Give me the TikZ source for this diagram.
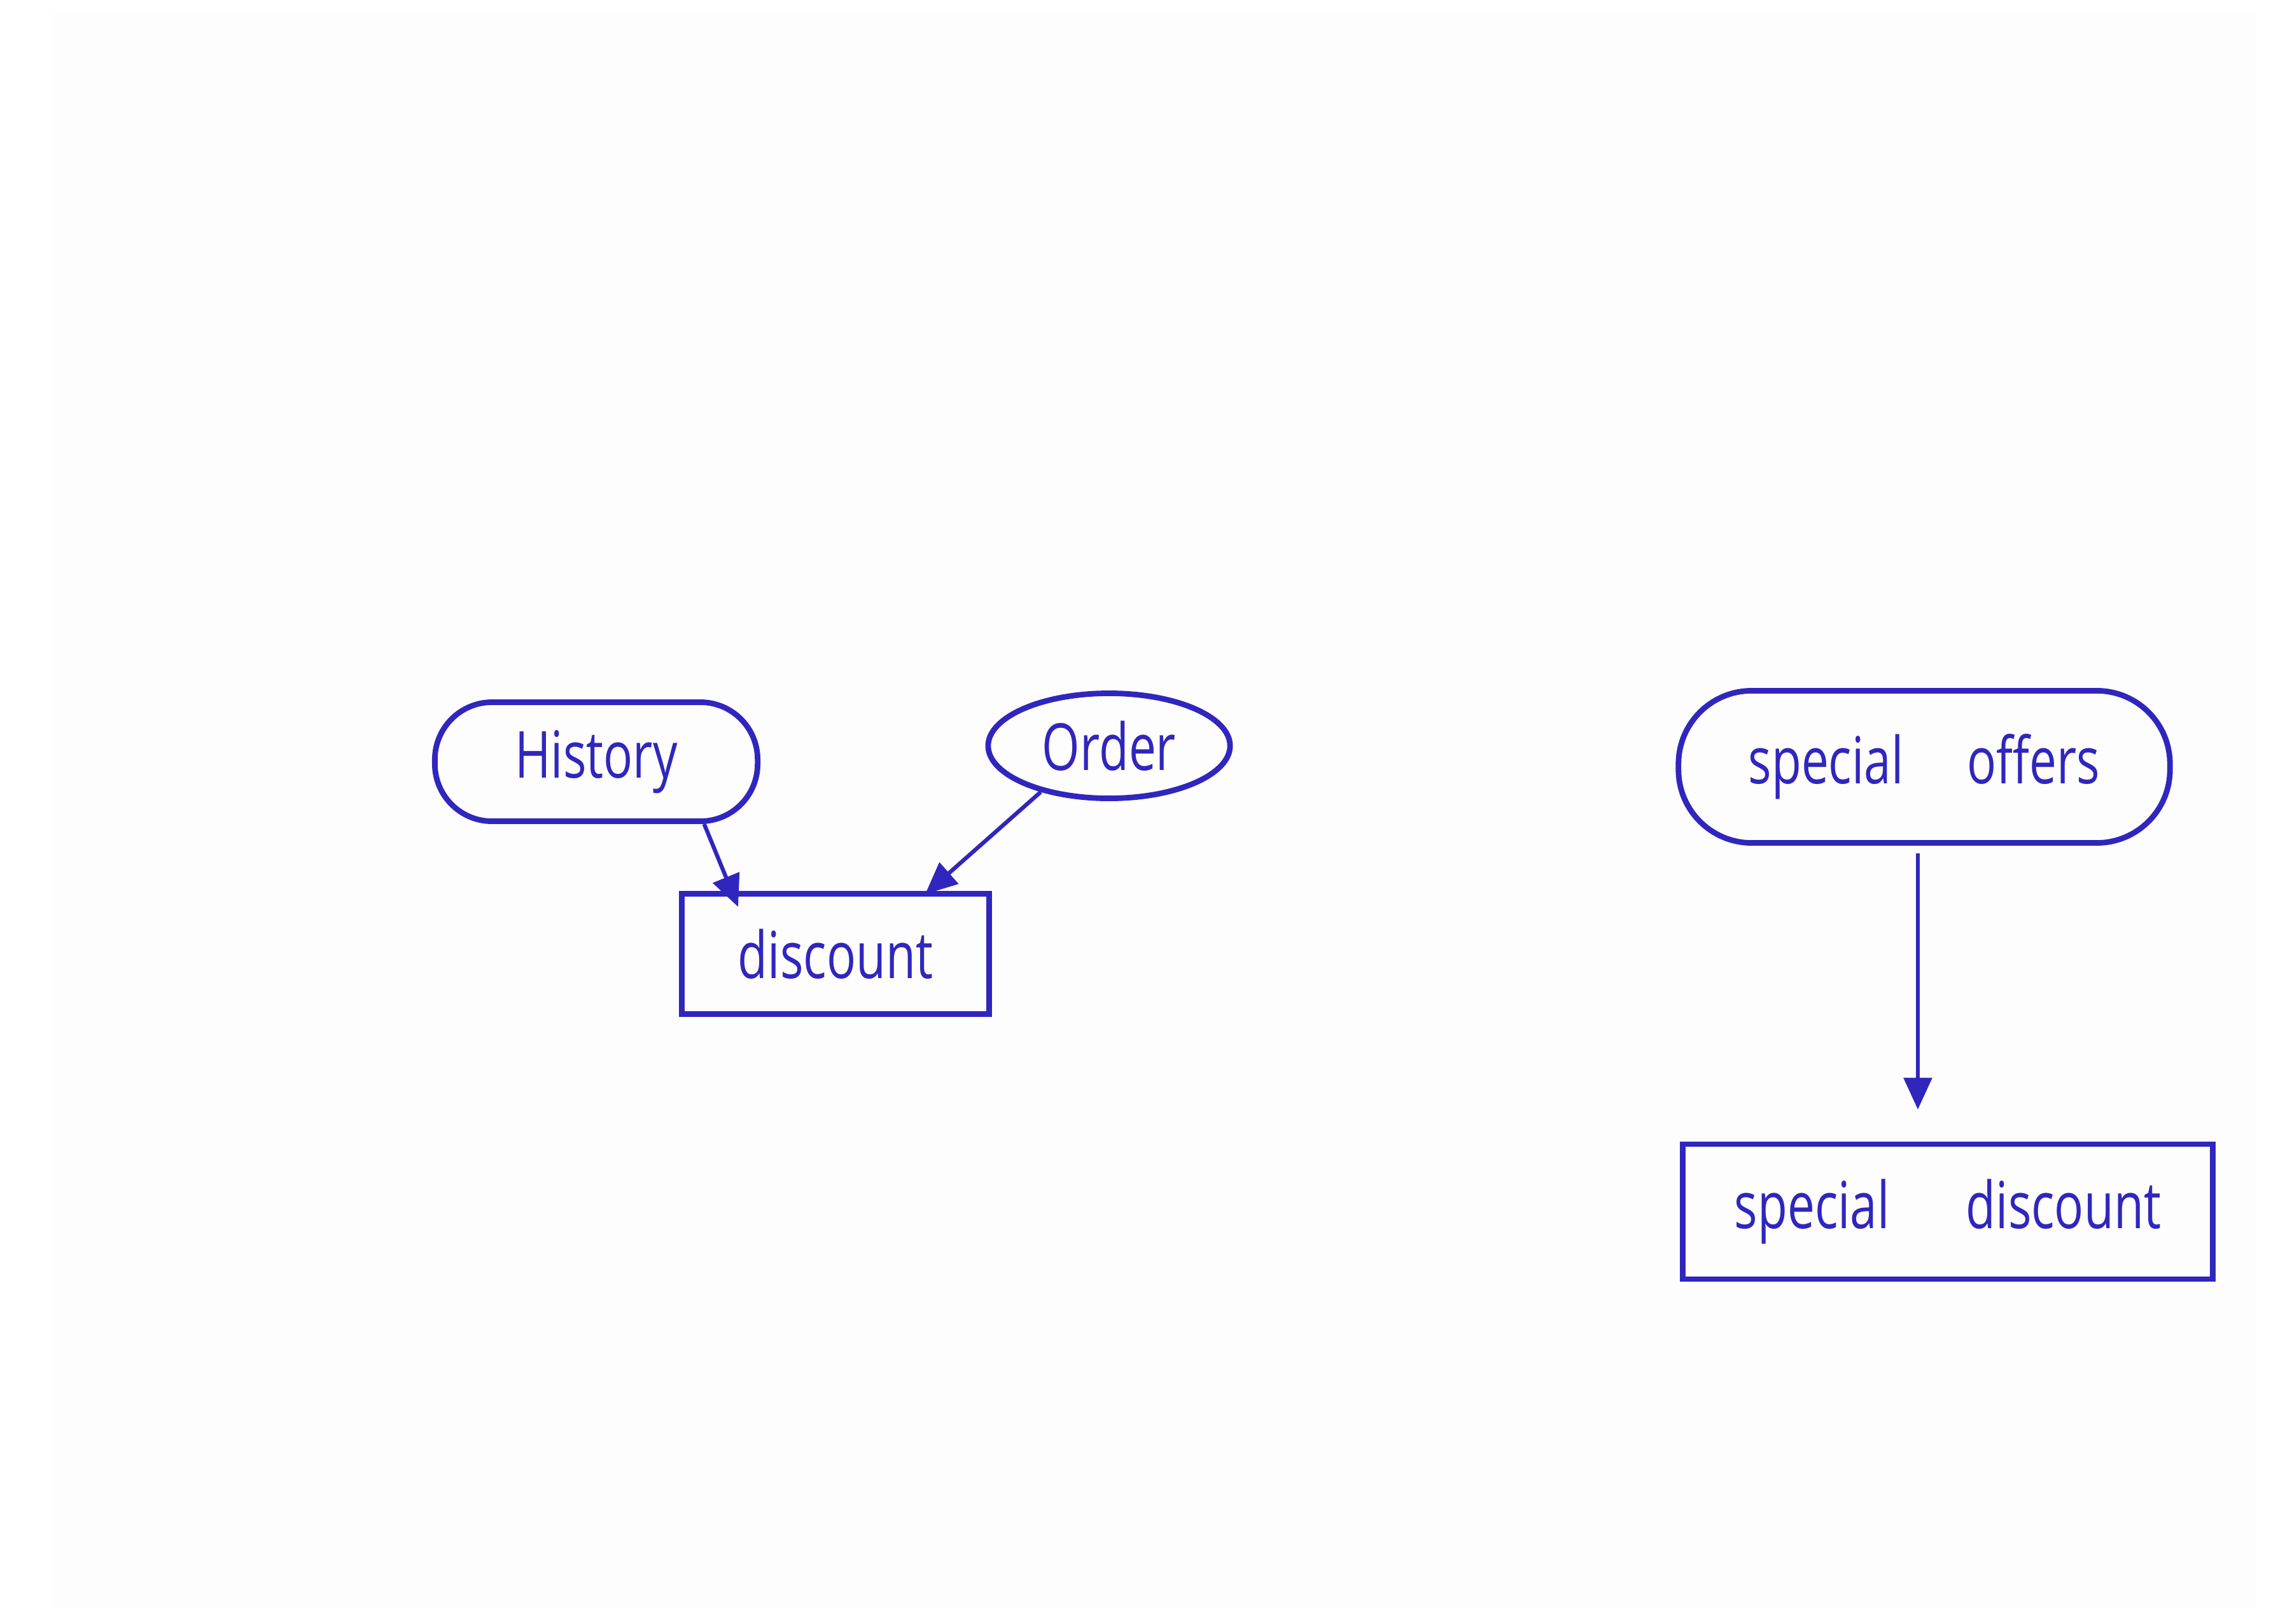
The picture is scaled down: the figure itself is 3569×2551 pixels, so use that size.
\documentclass[tikz,border=0pt]{standalone}
\usepackage{fontspec}
\setmainfont{Open Sans}[FakeStretch=0.75]
\usetikzlibrary{arrows.meta,shapes.geometric}
\definecolor{pen}{RGB}{48,38,190}
\definecolor{paper}{RGB}{253,253,253}
\tikzset{
  hand/.style={font=\fontsize{29}{33}\selectfont, text=pen},
  oval/.style={hand, draw=pen, line width=2.5pt, ellipse, inner sep=0pt},
  pill/.style={hand, draw=pen, line width=2.5pt, rectangle, rounded corners=0.9cm, inner sep=0pt},
  box/.style={hand, draw=pen, line width=2.5pt, rectangle, inner sep=0pt},
  flow/.style={draw=pen, line width=1.8pt, -{Triangle[length=0.5cm,width=0.44cm]}}
}
\begin{document}
\begin{tikzpicture}[x=0.01cm, y=-0.01cm]
  \useasboundingbox (0,0) rectangle (3569,2551);
  \fill[paper] (80,23) rectangle (3545,2528);

  % left group
  \node[pill, minimum width=5.07cm, minimum height=1.87cm] (hist) at (937,1197) {History};
  \node[oval, minimum width=3.8cm, minimum height=1.65cm] (order) at (1743,1172) {Order};
  \node[box, minimum width=4.83cm, minimum height=1.89cm] (disc) at (1313,1499) {discount};

  % right group
  \node[pill, rounded corners=1.15cm, minimum width=7.72cm, minimum height=2.39cm] (offers) at (3024,1205) {special\hspace{1cm}offers};
  \node[box, minimum width=8.33cm, minimum height=2.12cm] (sdisc) at (3061,1904) {special\hspace{1.2cm}discount};

  % connectors
  \draw[flow] (hist.-30) -- ([xshift=0.93cm, yshift=-0.25cm]disc.north west);
  \draw[flow] (order.214) -- ([xshift=-1.05cm, yshift=-0.05cm]disc.north east);
  \draw[flow, shorten <=0.12cm, shorten >=0.5cm] ([xshift=-0.1cm]offers.south) -- ([xshift=-0.1cm]offers.south |- sdisc.north);
\end{tikzpicture}
\end{document}
